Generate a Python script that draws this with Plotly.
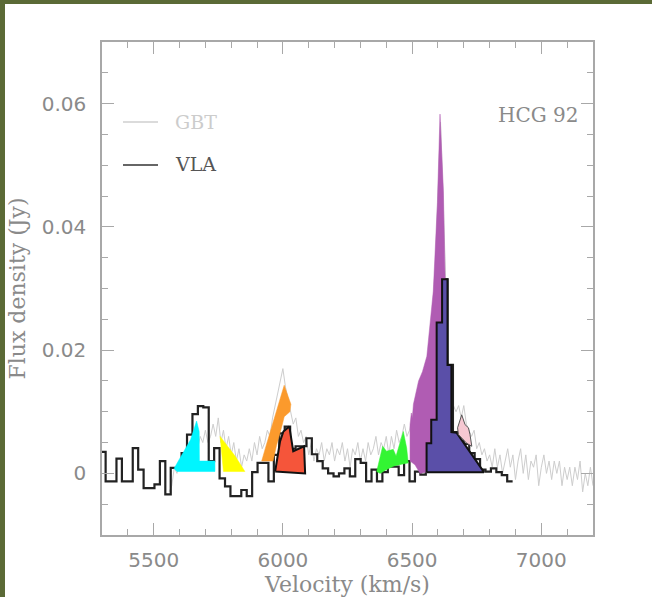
import plotly.graph_objects as go

# ---------------- data ----------------
# GBT spectrum (light grey), 10 km/s sampling
gbt_velocity = list(range(5560, 7201, 10))
gbt_flux = [
    -0.003, -0.002, 0.001, 0.000, 0.002, 0.001, 0.003, 0.002, 0.004, 0.003,
    0.005, 0.004, 0.006, 0.005, 0.007, 0.005, 0.006, 0.008, 0.006, 0.009,
    0.005, 0.007, 0.004, 0.006, 0.003, 0.005, 0.002, 0.004, 0.001, 0.003,
    0.002, 0.004, 0.002, 0.005, 0.003, 0.006, 0.004, 0.005, 0.007, 0.006,
    0.009, 0.011, 0.013, 0.015, 0.017, 0.014, 0.012, 0.010, 0.008, 0.009,
    0.006, 0.007, 0.005, 0.006, 0.003, 0.005, 0.002, 0.004, 0.003, 0.005,
    0.002, 0.004, 0.003, 0.005, 0.002, 0.004, 0.003, 0.005, 0.002, 0.004,
    0.001, 0.004, 0.003, 0.005, 0.002, 0.004, 0.002, 0.005, 0.003, 0.004,
    0.006, 0.003, 0.005, 0.004, 0.006, 0.003, 0.006, 0.004, 0.007, 0.005,
    0.006, 0.008, 0.006, 0.007, 0.009, 0.011, 0.012, 0.013, 0.015, 0.017,
    0.019, 0.022, 0.027, 0.034, 0.045, 0.057, 0.045, 0.030, 0.017, 0.013,
    0.011, 0.010, 0.011, 0.009, 0.011, 0.008, 0.007, 0.006, 0.007, 0.004,
    0.005, 0.003, 0.004, 0.002, 0.003, 0.001, 0.004, 0.001, 0.003, 0.000,
    0.002, 0.004, 0.001, 0.003, -0.001, 0.002, 0.004, 0.000, 0.003, -0.001,
    0.002, 0.001, 0.003, -0.002, 0.001, 0.003, 0.000, 0.002, -0.001, 0.002,
    0.000, 0.002, -0.002, 0.001, -0.001, 0.001, -0.002, 0.001, -0.001, 0.002,
    -0.003, 0.000, -0.002, 0.001, -0.002,
]

# VLA spectrum (black histogram), channel left edges
vla_velocity = [
    5293, 5314, 5335, 5356, 5377, 5398, 5419, 5440, 5461, 5482,
    5503, 5524, 5545, 5566, 5587, 5608, 5629, 5650, 5671, 5692,
    5713, 5734, 5755, 5776, 5797, 5818, 5839, 5860, 5881, 5902,
    5923, 5944, 5965, 5986, 6007, 6028, 6049, 6070, 6091, 6112,
    6133, 6154, 6175, 6196, 6217, 6238, 6259, 6280, 6301, 6322,
    6343, 6364, 6385, 6406, 6427, 6448, 6469, 6490, 6511, 6532,
    6553, 6574, 6595, 6616, 6637, 6658, 6679, 6700, 6721, 6742,
    6763, 6784, 6805, 6826, 6847, 6868,
]
vla_end_velocity = 6889
vla_flux = [
    0.0035, -0.0013, -0.0013, 0.0024, -0.0013, -0.0013, 0.0041, 0.0006, -0.0024, -0.0024,
    -0.0018, 0.0020, -0.0034, 0.0009, 0.0009, 0.0033, 0.0063, 0.0096, 0.0109, 0.0107,
    0.0020, 0.0041, -0.0008, -0.0021, -0.0037, -0.0037, -0.0027, -0.0037, 0.0002, 0.0017,
    0.0017, -0.0013, 0.0030, 0.0065, 0.0076, 0.0040, 0.0044, 0.0044, 0.0057, 0.0031,
    0.0020, 0.0008, 0.0000, -0.0005, 0.0000, 0.0008, -0.0005, 0.0023, 0.0017, -0.0013,
    0.0006, -0.0013, 0.0002, 0.0011, 0.0011, -0.0003, 0.0020, -0.0013, 0.0003, -0.0002,
    0.0049, 0.0087, 0.0245, 0.0315, 0.0176, 0.0067, 0.0060, 0.0048, 0.0033, 0.0023,
    0.0006, 0.0003, 0.0008, 0.0002, -0.0003, -0.0013,
]

# Coloured component outlines (velocity, flux)
cyan_v = [5579, 5634, 5643, 5666, 5676, 5677, 5737, 5737, 5590]
cyan_f = [0.0008, 0.0049, 0.0055, 0.0085, 0.0068, 0.0020, 0.0020, 0.0003, 0.0003]

yellow_v = [5757, 5770, 5853, 5815]
yellow_f = [0.0060, 0.0003, 0.0003, 0.0028]

orange_v = [6005, 6031, 6027, 6005, 5995, 5975, 5962, 5918, 5935, 5960, 5985]
orange_f = [0.0143, 0.0112, 0.0100, 0.0092, 0.0075, 0.0045, 0.0020, 0.0020, 0.0045, 0.0080, 0.0115]

red_v = [5970, 5989, 6002, 6025, 6040, 6082, 6086]
red_f = [0.0003, 0.0052, 0.0068, 0.0076, 0.0036, 0.0044, 0.0000]

green_v = [6363, 6386, 6401, 6427, 6438, 6460, 6466, 6479, 6485, 6460, 6430, 6400, 6376]
green_f = [0.0003, 0.0044, 0.0036, 0.0039, 0.0028, 0.0063, 0.0068, 0.0041, 0.0017, 0.0015, 0.0012, 0.0006, 0.0000]

purple_v = [6492, 6492, 6497, 6501, 6505, 6511, 6525, 6540, 6557, 6582, 6598, 6608,
            6614, 6621, 6627, 6634, 6632, 6560, 6550, 6531, 6511]
purple_f = [0.0020, 0.0079, 0.0098, 0.0090, 0.0112, 0.0125, 0.0150, 0.0165, 0.0190, 0.0296,
            0.0440, 0.0583, 0.0520, 0.0459, 0.0330, 0.0220, 0.0010, 0.0003, 0.0003, 0.0000, 0.0014]

navy_v = [6556, 6556, 6574, 6574, 6595, 6595, 6616, 6616, 6637, 6637, 6652, 6652, 6672, 6778]
navy_f = [0.0002, 0.0049, 0.0049, 0.0087, 0.0087, 0.0245, 0.0245, 0.0315, 0.0315, 0.0176,
          0.0176, 0.0067, 0.0066, 0.0002]

pink_v = [6692, 6705, 6718, 6724, 6731, 6711, 6679, 6676]
pink_f = [0.0095, 0.0079, 0.0074, 0.0063, 0.0044, 0.0049, 0.0063, 0.0074]

x_ticks = [5500, 6000, 6500, 7000]
y_ticks = [0, 0.02, 0.04, 0.06]
y_tick_labels = ["0", "0.02", "0.04", "0.06"]

# ---------------- figure ----------------
fig = go.Figure()

fig.add_trace(go.Scatter(x=gbt_velocity, y=gbt_flux, mode="lines",
                         line=dict(color="#cdcdcd", width=1), showlegend=False,
                         hoverinfo="skip"))
fig.add_trace(go.Scatter(x=vla_velocity + [vla_end_velocity], y=vla_flux + [vla_flux[-1]],
                         mode="lines", line=dict(color="#222222", width=2.2, shape="hv"),
                         showlegend=False, hoverinfo="skip"))


def blob(v, f, color, outline=None, width=0):
    fig.add_trace(go.Scatter(
        x=v + [v[0]], y=f + [f[0]], mode="lines", fill="toself", fillcolor=color,
        line=dict(color=outline if outline else color, width=width if outline else 0.5),
        showlegend=False, hoverinfo="skip"))


blob(purple_v, purple_f, "#b05cb3")
blob(navy_v, navy_f, "#5a4fa8", "#111111", 2)
blob(pink_v, pink_f, "#f6c8d2", "#555555", 1)
blob(green_v, green_f, "#33f533")
blob(cyan_v, cyan_f, "#00f5ff")
blob(yellow_v, yellow_f, "#ffff00")
blob(orange_v, orange_f, "#fb9a2c")
blob(red_v, red_f, "#f5553a", "#111111", 2)

W, H, L, T = 491.0, 493.0, 102.0, 42.0


def px(xp):
    return (xp - L) / W


def py(yp):
    return 1 - (yp - T) / H


# olive outer border -> white panel
fig.add_shape(type="rect", xref="paper", yref="paper", x0=px(5), x1=px(660), y0=py(605), y1=py(4),
              fillcolor="white", line=dict(width=0), layer="below")

# legend (manual)
fig.add_shape(type="line", xref="paper", yref="paper", x0=px(123), x1=px(158), y0=py(122), y1=py(122),
              line=dict(color="#cfcfcf", width=1.5))
fig.add_shape(type="line", xref="paper", yref="paper", x0=px(123), x1=px(158), y0=py(165), y1=py(165),
              line=dict(color="#666666", width=2))
fig.add_annotation(xref="paper", yref="paper", x=px(173), y=py(122), text="GBT", showarrow=False,
                   xanchor="left", yanchor="middle",
                   font=dict(family="DejaVu Serif", size=19, color="#cccccc"))
fig.add_annotation(xref="paper", yref="paper", x=px(173), y=py(164), text="VLA", showarrow=False,
                   xanchor="left", yanchor="middle",
                   font=dict(family="DejaVu Serif", size=19, color="#555555"))
fig.add_annotation(xref="paper", yref="paper", x=px(581), y=py(115), text="HCG 92", showarrow=False,
                   xanchor="right", yanchor="middle",
                   font=dict(family="DejaVu Serif", size=20, color="#8a8a8a"))

axis_common = dict(showline=True, linecolor="#a8a8a8", linewidth=1.5, mirror="allticks",
                   ticks="inside", tickcolor="#a8a8a8", tickwidth=1.3, ticklen=12,
                   showgrid=False, zeroline=False,
                   tickfont=dict(family="DejaVu Sans", size=20, color="#8a8a8a"),
                   title_font=dict(family="DejaVu Serif", size=22, color="#8a8a8a"))

fig.update_xaxes(range=[5300, 7200], tickvals=x_ticks,
                 minor=dict(ticks="inside", dtick=100, ticklen=6, tickcolor="#a8a8a8", tickwidth=1.2),
                 title_text="Velocity (km/s)", title_standoff=6, ticklabelstandoff=6,
                 **axis_common)
fig.update_yaxes(range=[-0.01, 0.07], tickvals=y_ticks, ticktext=y_tick_labels,
                 minor=dict(ticks="inside", dtick=0.005, ticklen=6, tickcolor="#a8a8a8", tickwidth=1.2),
                 title_text="Flux density (Jy)", title_standoff=10, ticklabelstandoff=10,
                 **axis_common)

fig.update_layout(width=652, height=597, margin=dict(l=102, r=59, t=42, b=62, autoexpand=False),
                  paper_bgcolor="#5b6a36", plot_bgcolor="white", showlegend=False)

fig.write_html("out.html", config={"displayModeBar": False},
               post_script="document.body.style.margin='0px';")
